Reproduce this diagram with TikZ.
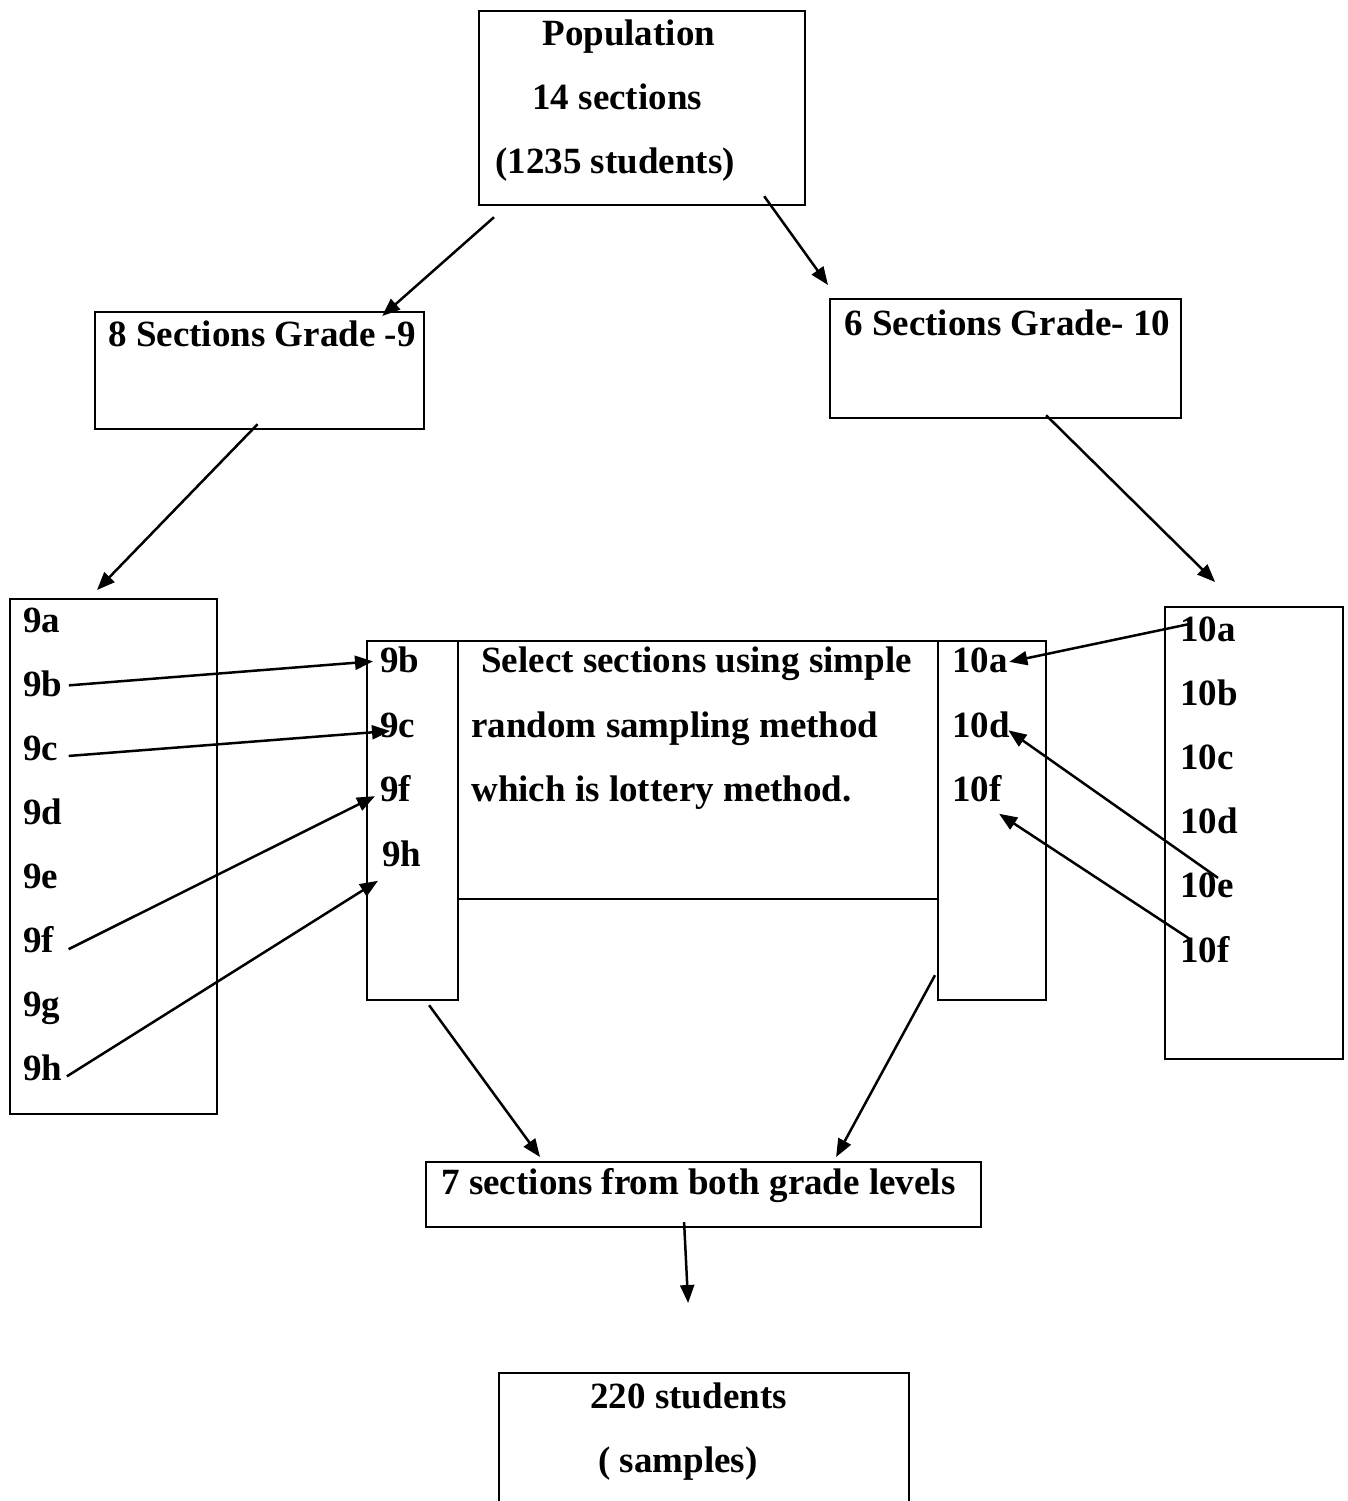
\documentclass[tikz,border=0pt]{standalone}
\usepackage{fontspec}
\setmainfont{Liberation Serif}
\usetikzlibrary{calc,arrows.meta}
\tikzset{
  boxst/.style={draw, line width=1.1pt, rectangle, inner sep=0pt},
  txt/.style={anchor=base west, inner sep=0pt, font=\fontsize{18.5}{22}\selectfont\bfseries},
  arr/.style={line width=1.25pt, -{Triangle[length=9pt,width=7pt]}}
}
\newcommand\mybox[5]{\node[boxst, anchor=north west, minimum width=#4*0.5pt, minimum height=#5*0.5pt] (#1) at (#2,#3) {};}
\begin{document}
\begin{tikzpicture}[x=0.5pt,y=-0.5pt]
\useasboundingbox (0,0) rectangle (1348,1501);
\clip (0,0) rectangle (1348,1501);
% boxes
\mybox{pop}{478}{10}{326}{194}
\mybox{g9}{94}{311}{329}{117}
\mybox{g10}{829}{298}{351}{119}
\mybox{l9}{9}{598}{207}{515}
\mybox{mL}{366}{640}{91}{359}
\mybox{mC}{457}{640}{480}{258}
\mybox{mR}{937}{640}{108}{359}
\mybox{r10}{1164}{606}{178}{452}
\mybox{seven}{425}{1161}{555}{65}
\mybox{samp}{498}{1372}{410}{160}
% texts
\node[txt] (tpop) at (542,45) {Population};
\node[txt] (t14) at (532,109) {14 sections};
\node[txt] (t1235) at (495,173) {(1235 students)};
\node[txt] (tg9) at (108,346) {8 Sections Grade -9};
\node[txt] (tg10) at (844,335) {6 Sections Grade- 10};
\node[txt] (l9a) at (23,632) {9a};
\node[txt] (l9b) at (23,696) {9b};
\node[txt] (l9c) at (23,760) {9c};
\node[txt] (l9d) at (23,824) {9d};
\node[txt] (l9e) at (23,888) {9e};
\node[txt] (l9f) at (23,952) {9f};
\node[txt] (l9g) at (23,1016) {9g};
\node[txt] (l9h) at (23,1080) {9h};
\node[txt] (m9b) at (380,672) {9b};
\node[txt] (m9c) at (380,737) {9c};
\node[txt] (m9f) at (380,801) {9f};
\node[txt] (m9h) at (382,866) {9h};
\node[txt] (mc1) at (481,672) {Select sections using simple};
\node[txt] (mc2) at (471,737) {random sampling method};
\node[txt] (mc3) at (471,801) {which is lottery method.};
\node[txt] (m10a) at (952,672) {10a};
\node[txt] (m10d) at (952,737) {10d};
\node[txt] (m10f) at (952,801) {10f};
\node[txt] (r10a) at (1180,641) {10a};
\node[txt] (r10b) at (1180,705) {10b};
\node[txt] (r10c) at (1180,769) {10c};
\node[txt] (r10d) at (1180,833) {10d};
\node[txt] (r10e) at (1180,897) {10e};
\node[txt] (r10f) at (1180,962) {10f};
\node[txt] (tseven) at (441,1194) {7 sections from both grade levels};
\node[txt] (t220) at (590,1408) {220 students};
\node[txt] (tsamp) at (598,1472) {( samples)};
% connectors
\draw[arr] ($(pop.south west)+(16,11)$) -- ($(g9.north east)+(-43,5)$);
\draw[arr] ($(pop.south east)+(-42,-10)$) -- ($(g10.north west)+(-1,-13)$);
\draw[arr] ($(g9.south)+(-2,-6)$) -- ($(l9.north west)+(88,-8)$);
\draw[arr] ($(g10.south)+(40.5,-4)$) -- ($(r10.north)+(-39,-24)$);
\draw[arr] ($(l9b.east)+(6,2)$) -- ($(m9b.west)+(-7,2)$);
\draw[arr] ($(l9c.east)+(10,8)$) -- ($(m9c.west)+(10,6)$);
\draw[arr] ($(l9f.east)+(14,10)$) -- ($(m9f.west)+(-5,8)$);
\draw[arr] ($(l9h.east)+(4,9)$) -- ($(m9h.south west)+(-4,14)$);
\draw[arr] ($(r10a.west)+(10,-5)$) -- ($(m10a.east)+(1,2)$);
\draw[arr] ($(r10e.west)+(38,-7)$) -- ($(m10d.east)+(-2,6)$);
\draw[arr] ($(r10f.west)+(10,-10)$) -- ($(m10f.south east)+(-3,12)$);
\draw[arr] ($(mL.south)+(16.5,4)$) -- ($(seven.north west)+(115,-4)$);
\draw[arr] ($(mR.south west)+(-2,-26)$) -- ($(seven.north)+(132.5,-4)$);
\draw[arr] ($(seven.south)+(-19.5,-6)$) -- ($(samp.north)+(-16,-69)$);
\end{tikzpicture}
\end{document}
